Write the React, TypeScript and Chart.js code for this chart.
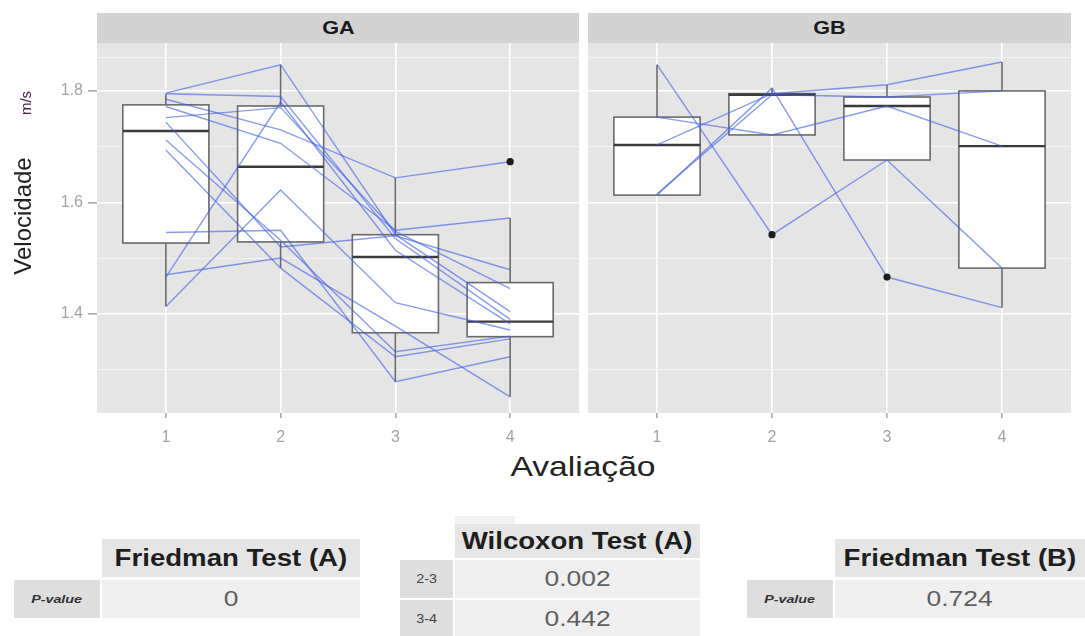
import React, { useEffect, useRef } from 'react';
import { Chart, registerables } from 'chart.js';

Chart.register(...registerables);

const FONT = '"Liberation Sans", Arial, Helvetica, sans-serif';

// ---- axes ----
const evaluations = [1, 2, 3, 4];
const xTickLabels = ['1', '2', '3', '4'];
const yLabelledTicks = [1.4, 1.6, 1.8];
const yGridValues = [1.3, 1.4, 1.5, 1.6, 1.7, 1.8, 1.86];
const yMin = 1.222;
const yMax = 1.886;

// ---- GA box statistics (per evaluation 1..4) ----
const gaLow = [1.413, 1.482, 1.278, 1.251];
const gaQ1 = [1.527, 1.529, 1.366, 1.359];
const gaMedian = [1.728, 1.664, 1.502, 1.386];
const gaQ3 = [1.775, 1.773, 1.542, 1.456];
const gaHigh = [1.795, 1.847, 1.644, 1.572];
const gaOutlierX = [4];
const gaOutlierY = [1.673];

// ---- GA individual trajectories ----
const gaSubjects = [
  [1.796, 1.847, 1.542, 1.404],
  [1.795, 1.790, 1.535, 1.390],
  [1.785, 1.730, 1.644, 1.673],
  [1.752, 1.770, 1.548, 1.445],
  [1.772, 1.706, 1.550, 1.572],
  [1.744, 1.520, 1.540, 1.479],
  [1.712, 1.532, 1.332, 1.360],
  [1.694, 1.482, 1.323, 1.355],
  [1.546, 1.550, 1.278, 1.323],
  [1.470, 1.500, 1.378, 1.251],
  [1.466, 1.780, 1.514, 1.382],
  [1.413, 1.622, 1.420, 1.371],
];

// ---- GB box statistics ----
const gbLow = [1.613, 1.721, 1.676, 1.411];
const gbQ1 = [1.613, 1.721, 1.676, 1.482];
const gbMedian = [1.703, 1.793, 1.773, 1.701];
const gbQ3 = [1.753, 1.795, 1.789, 1.800];
const gbHigh = [1.847, 1.805, 1.811, 1.852];
const gbOutlierX = [2, 3];
const gbOutlierY = [1.542, 1.466];

// ---- GB individual trajectories ----
const gbSubjects = [
  [1.847, 1.542, 1.676, 1.482],
  [1.613, 1.805, 1.466, 1.411],
  [1.753, 1.721, 1.773, 1.701],
  [1.703, 1.795, 1.811, 1.852],
  [1.615, 1.793, 1.789, 1.800],
];

// ---- tables ----
const friedmanATitle = 'Friedman Test (A)';
const friedmanAValue = '0';
const wilcoxonTitle = 'Wilcoxon Test (A)';
const wilcoxonPairs = ['2-3', '3-4'];
const wilcoxonValues = ['0.002', '0.442'];
const friedmanBTitle = 'Friedman Test (B)';
const friedmanBValue = '0.724';
const pValueLabel = 'P-value';

const isMajor = (v: number) => yLabelledTicks.some((t) => Math.abs(t - v) < 1e-9);

type Stats = { low: number[]; q1: number[]; med: number[]; q3: number[]; high: number[] };

function Panel(props: {
  stats: Stats;
  subjects: number[][];
  outX: number[];
  outY: number[];
  showY: boolean;
  left: number;
  top: number;
  width: number;
  height: number;
  padLeft: number;
  yAxisWidth: number;
}) {
  const ref = useRef<HTMLCanvasElement>(null);
  useEffect(() => {
    const { stats, subjects, outX, outY, showY } = props;
    const bg = {
      id: 'panelBg',
      beforeDraw(chart: any) {
        const { ctx, chartArea: a } = chart;
        ctx.save();
        ctx.fillStyle = '#E5E5E5';
        ctx.fillRect(a.left, a.top, a.right - a.left, a.bottom - a.top);
        ctx.restore();
      },
    };
    const boxes = {
      id: 'boxes',
      beforeDatasetsDraw(chart: any) {
        const { ctx } = chart;
        const xs = chart.scales.x;
        const ys = chart.scales.y;
        const half = xs.getPixelForValue(1.375) - xs.getPixelForValue(1);
        ctx.save();
        evaluations.forEach((ev, i) => {
          const cx = xs.getPixelForValue(ev);
          const yLow = ys.getPixelForValue(stats.low[i]);
          const yQ1 = ys.getPixelForValue(stats.q1[i]);
          const yMed = ys.getPixelForValue(stats.med[i]);
          const yQ3 = ys.getPixelForValue(stats.q3[i]);
          const yHigh = ys.getPixelForValue(stats.high[i]);
          ctx.strokeStyle = '#6a6a6a';
          ctx.lineWidth = 1.6;
          ctx.beginPath();
          ctx.moveTo(cx, yHigh);
          ctx.lineTo(cx, yQ3);
          ctx.moveTo(cx, yQ1);
          ctx.lineTo(cx, yLow);
          ctx.stroke();
          ctx.fillStyle = '#FFFFFF';
          ctx.fillRect(cx - half, yQ3, 2 * half, yQ1 - yQ3);
          ctx.strokeRect(cx - half, yQ3, 2 * half, yQ1 - yQ3);
          ctx.strokeStyle = '#3a3a3a';
          ctx.lineWidth = 2.4;
          ctx.beginPath();
          ctx.moveTo(cx - half, yMed);
          ctx.lineTo(cx + half, yMed);
          ctx.stroke();
        });
        ctx.restore();
      },
    };
    const datasets: any[] = [
      {
        type: 'scatter',
        data: outX.map((x, i) => ({ x, y: outY[i] })),
        pointRadius: 3.6,
        backgroundColor: '#1c1c1c',
        borderColor: '#1c1c1c',
        borderWidth: 0,
      },
      ...subjects.map((s) => ({
        type: 'line',
        data: evaluations.map((x, i) => ({ x, y: s[i] })),
        borderColor: 'rgba(65, 95, 235, 0.62)',
        borderWidth: 1.4,
        pointRadius: 0,
        fill: false,
        tension: 0,
      })),
    ];
    const chart = new Chart(ref.current as HTMLCanvasElement, {
      type: 'line',
      data: { datasets },
      options: {
        responsive: false,
        animation: false,
        devicePixelRatio: 1,
        layout: { padding: { top: 20, right: 20, bottom: 0, left: props.padLeft } },
        plugins: { legend: { display: false }, tooltip: { enabled: false } },
        scales: {
          x: {
            type: 'linear',
            min: 0.4,
            max: 4.6,
            afterBuildTicks: (s: any) => {
              s.ticks = evaluations.map((v) => ({ value: v }));
            },
            afterFit: (s: any) => {
              s.height = 34;
            },
            ticks: {
              autoSkip: false,
              maxRotation: 0,
              color: '#A3A3A3',
              padding: 10,
              font: { family: FONT, size: 16 },
              callback: (v: any) => {
                const k = evaluations.indexOf(Number(v));
                return k >= 0 ? xTickLabels[k] : '';
              },
            },
            grid: {
              color: '#FFFFFF',
              lineWidth: 1.6,
              tickLength: 5,
              tickColor: '#A8A8A8',
            },
            border: { display: false },
          },
          y: {
            type: 'linear',
            min: yMin,
            max: yMax,
            afterBuildTicks: (s: any) => {
              s.ticks = yGridValues.map((v) => ({ value: v }));
            },
            afterFit: (s: any) => {
              s.width = props.yAxisWidth;
            },
            ticks: {
              display: showY,
              color: '#A3A3A3',
              padding: 5,
              font: { family: FONT, size: 16 },
              callback: (v: any) => (isMajor(Number(v)) ? Number(v).toFixed(1) : ''),
            },
            grid: {
              color: (c: any) => (c.tick && isMajor(c.tick.value) ? '#FFFFFF' : '#F3F3F3'),
              lineWidth: (c: any) => (c.tick && isMajor(c.tick.value) ? 1.6 : 1),
              tickLength: showY ? 9 : 0,
              tickColor: (c: any) => (c.tick && isMajor(c.tick.value) ? '#A8A8A8' : 'rgba(0,0,0,0)'),
            },
            border: { display: false },
          },
        },
      } as any,
      plugins: [bg, boxes],
    });
    return () => chart.destroy();
  }, []);
  return (
    <canvas
      ref={ref}
      width={props.width}
      height={props.height}
      style={{ position: 'absolute', left: props.left, top: props.top, width: props.width, height: props.height }}
    />
  );
}

const cell = (l: number, t: number, w: number, h: number, extra: any = {}) => ({
  position: 'absolute' as const,
  left: l,
  top: t,
  width: w,
  height: h,
  display: 'flex',
  alignItems: 'center',
  justifyContent: 'center',
  fontFamily: FONT,
  whiteSpace: 'nowrap' as const,
  ...extra,
});

const Wide = (p: { children: any; sx?: number }) => (
  <span style={{ display: 'inline-block', transform: `scaleX(${p.sx ?? 1.2})` }}>{p.children}</span>
);

export default function App() {
  useEffect(() => {
    document.body.style.margin = '0';
  }, []);
  const headStyle = { background: '#E5E5E5', fontWeight: 700, fontSize: 23, color: '#1e1e1e' };
  const valStyle = { background: '#EFEFEF', fontSize: 22, color: '#5e5e5e' };
  const labStyle = { background: '#DEDEDE', fontSize: 11, fontStyle: 'italic', fontWeight: 700, color: '#333' };
  const pairStyle = { background: '#DEDEDE', fontSize: 12, color: '#444' };
  return (
    <div style={{ position: 'fixed', left: 0, top: 0, width: 1085, height: 636, background: '#FFFFFF', overflow: 'hidden' }}>
      <Panel
        stats={{ low: gaLow, q1: gaQ1, med: gaMedian, q3: gaQ3, high: gaHigh }}
        subjects={gaSubjects}
        outX={gaOutlierX}
        outY={gaOutlierY}
        showY={true}
        left={0}
        top={23}
        width={599}
        height={424}
        padLeft={0}
        yAxisWidth={97}
      />
      <Panel
        stats={{ low: gbLow, q1: gbQ1, med: gbMedian, q3: gbQ3, high: gbHigh }}
        subjects={gbSubjects}
        outX={gbOutlierX}
        outY={gbOutlierY}
        showY={false}
        left={568}
        top={23}
        width={523}
        height={424}
        padLeft={20}
        yAxisWidth={0}
      />
      {/* strips */}
      <div style={cell(97, 13, 482, 30, { background: '#D3D3D3', fontWeight: 700, fontSize: 18, color: '#1a1a1a' })}>
        <Wide>GA</Wide>
      </div>
      <div style={cell(588, 13, 483, 30, { background: '#D3D3D3', fontWeight: 700, fontSize: 18, color: '#1a1a1a' })}>
        <Wide>GB</Wide>
      </div>
      {/* axis titles */}
      <div
        style={{
          position: 'absolute',
          left: 23,
          top: 216,
          transform: 'translate(-50%, -50%) rotate(-90deg)',
          fontFamily: FONT,
          fontSize: 24,
          color: '#222',
          whiteSpace: 'nowrap',
        }}
      >
        Velocidade
      </div>
      <div
        style={{
          position: 'absolute',
          left: 25,
          top: 103,
          transform: 'translate(-50%, -50%) rotate(-90deg)',
          fontFamily: FONT,
          fontSize: 15,
          color: '#4a2346',
          whiteSpace: 'nowrap',
        }}
      >
        m/s
      </div>
      <div
        style={{
          position: 'absolute',
          left: 583,
          top: 467,
          transform: 'translate(-50%, -50%) scaleX(1.2)',
          fontFamily: FONT,
          fontSize: 28,
          color: '#222',
          whiteSpace: 'nowrap',
        }}
      >
        Avaliação
      </div>
      {/* Friedman A */}
      <div style={cell(102, 539, 258, 38, headStyle)}>
        <Wide>{friedmanATitle}</Wide>
      </div>
      <div style={cell(14, 580, 86, 38, labStyle)}>
        <Wide sx={1.3}>{pValueLabel}</Wide>
      </div>
      <div style={cell(102, 580, 258, 38, valStyle)}>
        <Wide>{friedmanAValue}</Wide>
      </div>
      {/* Wilcoxon */}
      <div style={cell(455, 516, 60, 8, { background: '#F2F2F2' })} />
      <div style={cell(455, 524, 245, 34, headStyle)}>
        <Wide>{wilcoxonTitle}</Wide>
      </div>
      {wilcoxonPairs.map((p, i) => (
        <React.Fragment key={p}>
          <div style={cell(400, 560 + i * 40, 53, 38, pairStyle)}>
            <Wide>{p}</Wide>
          </div>
          <div style={cell(455, 560 + i * 40, 245, 38, valStyle)}>
            <Wide>{wilcoxonValues[i]}</Wide>
          </div>
        </React.Fragment>
      ))}
      {/* Friedman B */}
      <div style={cell(835, 539, 250, 38, headStyle)}>
        <Wide>{friedmanBTitle}</Wide>
      </div>
      <div style={cell(747, 580, 86, 38, labStyle)}>
        <Wide sx={1.3}>{pValueLabel}</Wide>
      </div>
      <div style={cell(835, 580, 250, 38, valStyle)}>
        <Wide>{friedmanBValue}</Wide>
      </div>
    </div>
  );
}
